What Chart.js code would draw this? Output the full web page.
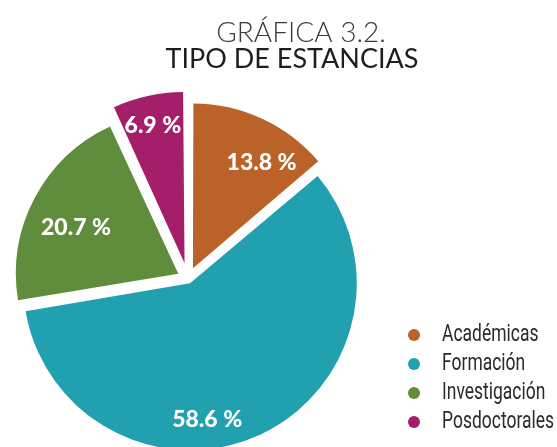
<!DOCTYPE html>
<html>
<head>
<meta charset="utf-8">
<script src="https://cdn.jsdelivr.net/npm/chart.js@4.4.1/dist/chart.umd.min.js"></script>
<style>
  html, body { margin: 0; padding: 0; background: #fff; }
  #wrap { width: 557px; height: 447px; }
</style>
</head>
<body>
<div id="wrap"><canvas id="canTipo"></canvas></div>
<script>
const categories = ['Académicas', 'Formación', 'Investigación', 'Posdoctorales']
const shares = [13.8, 58.6, 20.7, 6.9]
const colours = ['#BB6228', '#21A0AF', '#608D3C', '#A51E69']
const titleLines = ['GRÁFICA 3.2.', 'TIPO DE ESTANCIAS']

// how far each slice is pulled out (Chart.js offset units)
const sliceOffsets = [47, 19, 44, 64]
// where the % label sits: [fraction along the slice angle, fraction of radius]
const labelSpots = [[0.65, 0.85], [0.581, 0.877], [0.455, 0.76], [0.48, 0.97]]

const headerAndLegend = {
  id: 'headerAndLegend',
  afterDatasetsDraw (chart) {
    const ctx = chart.ctx
    const arcs = chart.getDatasetMeta(0).data
    ctx.save()
    ctx.fillStyle = '#fff'
    ctx.font = '900 23px Lato'
    ctx.textAlign = 'center'
    ctx.textBaseline = 'middle'
    arcs.forEach((arc, i) => {
      const p = arc.getProps(['x', 'y', 'startAngle', 'endAngle', 'outerRadius'])
      const a = p.startAngle + (p.endAngle - p.startAngle) * labelSpots[i][0]
      const r = p.outerRadius * labelSpots[i][1]
      ctx.fillText(shares[i].toFixed(1) + ' %', p.x + Math.cos(a) * r, p.y + Math.sin(a) * r)
    })
    ctx.restore()
  },
  afterDraw (chart) {
    const ctx = chart.ctx
    ctx.save()
    ctx.textAlign = 'center'
    ctx.textBaseline = 'alphabetic'
    ctx.fillStyle = '#3a3a3a'
    ctx.font = '300 28px Lato'
    ctx.fillText(titleLines[0], 301, 42)
    ctx.fillStyle = '#1e1e1e'
    ctx.font = '400 27px Lato'
    ctx.fillText(titleLines[1], 292, 68)

    // condensed legend text
    ctx.textAlign = 'left'
    ctx.textBaseline = 'middle'
    ctx.font = '23px Roboto'
    categories.forEach((c, i) => {
      const y = 335 + i * 29
      ctx.fillStyle = colours[i]
      ctx.beginPath()
      ctx.arc(414, y, 6, 0, Math.PI * 2)
      ctx.fill()
      ctx.save()
      ctx.translate(442, y)
      ctx.scale(0.76, 1)
      ctx.fillStyle = '#2b2b2b'
      ctx.fillText(c, 0, 0)
      ctx.restore()
    })
    ctx.restore()
  }
}

new Chart(document.getElementById('canTipo'), {
  type: 'pie',
  data: {
    labels: categories,
    datasets: [
      {
        data: shares,
        backgroundColor: colours,
        borderWidth: 0,
        offset: sliceOffsets,
        hoverOffset: 0
      }
    ]
  },
  options: {
    responsive: true,
    maintainAspectRatio: false,
    animation: false,
    radius: 162,
    layout: { padding: { left: 0, right: 181, top: 111, bottom: 0 } },
    plugins: {
      legend: { display: false },
      tooltip: { enabled: false }
    }
  },
  plugins: [headerAndLegend]
})
</script>
</body>
</html>
